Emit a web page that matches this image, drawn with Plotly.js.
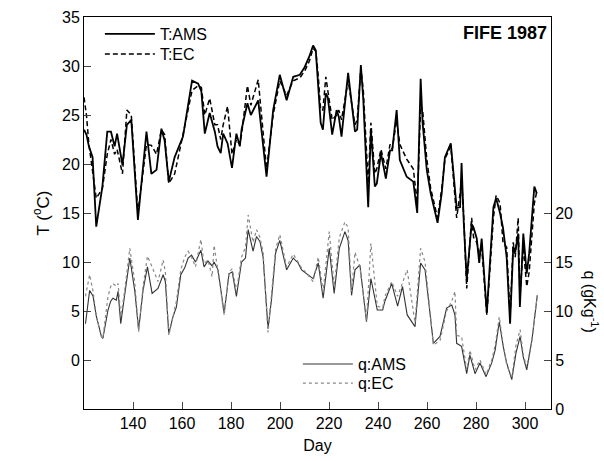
<!DOCTYPE html>
<html>
<head>
<meta charset="utf-8">
<script src="https://cdn.plot.ly/plotly-3.0.1.min.js"></script>
<style>html,body{margin:0;padding:0;background:#fff;}#chart{width:604px;height:461px;}</style>
</head>
<body>
<div id="chart"></div>
<script>
// ---- Data ----
var dayT = [120,121,122,123.5,125,127.5,129.5,131,132.5,133.5,135.7,137.5,139.3,142,145.5,147.5,149.6,151.6,152.9,154.6,157,160.4,164.1,166.6,167.9,169.3,171.3,173.4,174.5,175.8,176.8,178.6,180.4,182.2,183.6,184.3,186.7,188.1,191.1,194.5,197.2,199.9,202.7,205.4,208.1,210.1,212,213.5,214.6,215.6,216.6,217.5,218.7,219.5,221.3,223.1,224,225.1,227.8,230.6,231.5,233,234,236,237.1,238.7,239.5,241.2,243.2,244.9,245.8,247.6,248.9,251.7,254.4,256,257.4,258.2,259.9,261.5,264.3,266,267.3,269.7,272.1,273.5,274.1,275,276.2,278.2,279,280.3,281.3,282.3,284.4,287.1,288.2,289.8,291,292.5,293.9,295.2,296,297.2,297.9,299.3,300.7,301.7,303.8,304.8];
var tAMS = [23.5,23.0,21.8,20.7,13.6,17.7,23.3,23.3,21.8,23.1,19.9,24.0,24.5,14.3,23.3,19.0,19.4,23.6,22.4,18.2,20.7,22.8,28.5,28.2,27.4,23.1,25.2,23.3,21.8,21.1,23.1,22.1,19.6,23.1,21.8,23.5,26.2,25.0,26.5,18.7,25.5,29.1,26.5,28.9,29.1,29.9,31.0,32.1,31.6,28.2,24.2,23.5,27.2,26.8,23.0,25.5,24.8,22.8,29.3,23.3,23.5,30.1,26.5,15.6,23.5,17.7,18.0,21.1,18.5,21.4,21.4,25.5,20.4,18.7,18.2,15.0,28.7,24.2,19.4,17.0,14.0,17.0,20.7,22.1,15.5,15.6,20.1,14.0,8.2,13.9,13.5,12.4,9.9,12.4,4.8,15.6,16.5,15.0,13.5,10.5,3.7,11.6,11.0,12.9,5.4,12.9,8.8,10.9,17.7,17.0];
var tEC = [26.8,25.0,22.0,19.0,16.5,17.5,21.0,22.5,21.0,21.5,19.0,25.5,25.0,15.0,22.0,21.9,21.0,23.5,23.0,18.0,19.0,23.0,27.5,28.0,27.8,25.0,26.7,24.0,24.0,22.5,24.0,25.9,21.0,22.5,22.0,23.0,28.0,26.0,28.6,19.5,25.0,28.5,27.0,28.5,28.8,29.5,30.5,31.8,31.5,29.0,25.5,25.5,28.9,27.5,24.5,25.0,25.5,24.5,28.5,24.0,24.5,29.8,27.5,18.0,24.2,19.0,19.5,21.5,19.5,22.0,21.5,24.5,22.0,20.5,19.5,16.0,26.0,25.5,20.5,17.5,14.5,17.5,20.5,21.8,14.5,17.0,18.5,14.5,7.3,14.5,12.5,12.0,11.0,11.5,4.6,14.5,16.8,16.0,12.0,11.5,4.5,12.0,10.5,14.5,6.5,11.5,7.5,9.0,16.0,17.2];

var dayQ = [120.6,122.3,123.7,125,127.1,127.7,129.8,130.9,131.8,133.2,133.9,135.0,136.3,138.7,140.7,142.3,144.1,145.9,147.8,150.2,152.3,153.2,154.6,156.3,157.7,159.5,161.1,162.5,163.9,165.5,167.7,169.0,170.6,172.3,173.1,174.7,177.2,179.2,180.5,182.2,184.3,185.9,187.0,189.0,190.4,191.8,193.1,195.1,196.5,198.2,199.9,202.7,205.4,207.4,208.8,211,213.5,215.6,217.6,220.1,222.1,224.2,226.5,227.8,229.2,230.6,232.6,235.3,237.1,239.7,241.9,242.8,245.6,248,250,251.9,255.1,257.4,259.2,262.6,265.3,268.0,270.1,271.4,272.1,274.1,276.2,277.5,279.6,281.6,284.1,286.4,287.8,289.5,291.1,292.5,294.6,296.3,298.0,299.3,300.7,302.8,305.0];
var qAMS = [8.7,12.1,11.5,9.5,7.4,7.2,10.1,11.0,11.3,11.1,12.0,8.7,11.1,15.4,12.1,8.1,12.1,14.5,11.8,12.3,13.7,13.0,7.7,9.4,10.4,13.7,14.4,15.4,15.7,15.0,16.2,14.5,15.1,14.6,15.0,14.2,9.8,13.8,14.0,11.5,15.0,15.4,18.3,16.1,17.6,17.1,15.5,8.2,11.1,15.9,17.2,14.2,15.4,14.9,14.2,13.8,13.3,14.9,11.3,16.4,11.8,16.4,18.1,17.2,11.6,14.2,14.7,8.9,13.3,10.1,10.1,11.0,12.8,10.5,12.5,9.6,8.4,14.9,14.2,6.7,7.4,10.3,10.6,9.6,6.7,6.4,3.6,5.5,3.6,4.7,3.3,4.7,6.0,8.9,6.4,4.7,3.0,5.7,7.4,5.3,4.0,7.0,11.6];
var qEC = [11.5,13.7,12.0,9.5,7.4,7.2,11.5,12.5,12.8,12.5,12.8,9.5,11.5,16.4,13.0,7.9,12.5,15.6,14.5,13.0,15.2,14.0,7.5,9.4,11.0,14.2,15.5,16.1,15.5,14.5,17.3,14.8,15.2,13.5,16.7,14.0,9.6,14.0,14.3,12.0,15.5,16.5,19.8,17.0,18.3,17.5,16.0,7.8,11.5,16.3,17.8,14.5,15.8,15.0,14.4,13.8,13.0,15.5,12.0,18.1,12.5,17.5,19.1,18.5,12.0,16.0,14.5,9.0,16.9,10.5,10.3,11.5,13.0,11.5,13.0,14.2,8.8,16.4,15.0,6.5,7.0,10.0,11.0,12.0,7.5,7.4,4.0,6.0,4.0,5.0,3.5,5.0,6.5,9.4,6.5,4.5,3.2,6.5,8.1,5.5,4.3,7.0,11.6];

var tTicks = [0,5,10,15,20,25,30,35];
var qTicks = [0,5,10,15,20];
var dayTicks = [140,160,180,200,220,240,260,280,300];

var FONT = 'Liberation Sans, Arial, sans-serif';

var traces = [
  {x: dayT, y: tAMS, name: 'T:AMS', type: 'scatter', mode: 'lines',
   line: {color: '#000', width: 1.8}, legend: 'legend'},
  {x: dayT, y: tEC, name: 'T:EC', type: 'scatter', mode: 'lines',
   line: {color: '#000', width: 1.5, dash: '5px,3px'}, legend: 'legend2'},
  {x: dayQ, y: qAMS, name: 'q:AMS', type: 'scatter', mode: 'lines', yaxis: 'y2',
   line: {color: '#333', width: 1.1}, legend: 'legend3'},
  {x: dayQ, y: qEC, name: 'q:EC', type: 'scatter', mode: 'lines', yaxis: 'y2',
   line: {color: '#888', width: 1.2, dash: 'dot'}, legend: 'legend4'}
];

function leg(x, y) {
  return {x: x, y: y, xanchor: 'left', yanchor: 'top',
    bgcolor: 'rgba(0,0,0,0)', borderwidth: 0, itemwidth: 50,
    font: {size: 16}, tracegroupgap: 0};
}

var layout = {
  width: 604, height: 461,
  margin: {l: 84, r: 53, t: 17, b: 52},
  paper_bgcolor: '#fff', plot_bgcolor: '#fff',
  font: {family: FONT, size: 16, color: '#000'},
  showlegend: true,
  xaxis: {
    range: [120, 310.6], tickvals: dayTicks, ticks: 'inside', ticklen: 7,
    showline: true, mirror: true, linecolor: '#000', linewidth: 1,
    showgrid: false, zeroline: false,
    title: {text: 'Day', standoff: 8, font: {size: 16}}
  },
  yaxis: {
    range: [-5, 35], tickvals: tTicks, ticks: 'inside', ticklen: 7,
    showline: true, linecolor: '#000', linewidth: 1,
    showgrid: false, zeroline: false,
    title: {text: 'T (<sup>o</sup>C)', standoff: 8, font: {size: 17}}
  },
  yaxis2: {
    overlaying: 'y', side: 'right',
    range: [0, 40], tickvals: qTicks, ticks: 'inside', ticklen: 7,
    showline: true, linecolor: '#000', linewidth: 1,
    showgrid: false, zeroline: false
  },
  legend: leg(0.034, 1.0),
  legend2: leg(0.034, 0.949),
  legend3: leg(0.458, 0.158),
  legend4: leg(0.458, 0.109),
  annotations: [
    {text: '<b>FIFE 1987</b>', xref: 'paper', yref: 'paper', x: 0.995, y: 0.99,
     xanchor: 'right', yanchor: 'top', showarrow: false, font: {size: 18}},
    {text: 'q (gKg<sup>-1</sup>)', xref: 'paper', yref: 'paper', x: 1.085, y: 0.275,
     xanchor: 'center', yanchor: 'middle', textangle: 90, showarrow: false, font: {size: 16}}
  ]
};

Plotly.newPlot('chart', traces, layout, {displayModeBar: false, staticPlot: true});
</script>
</body>
</html>
